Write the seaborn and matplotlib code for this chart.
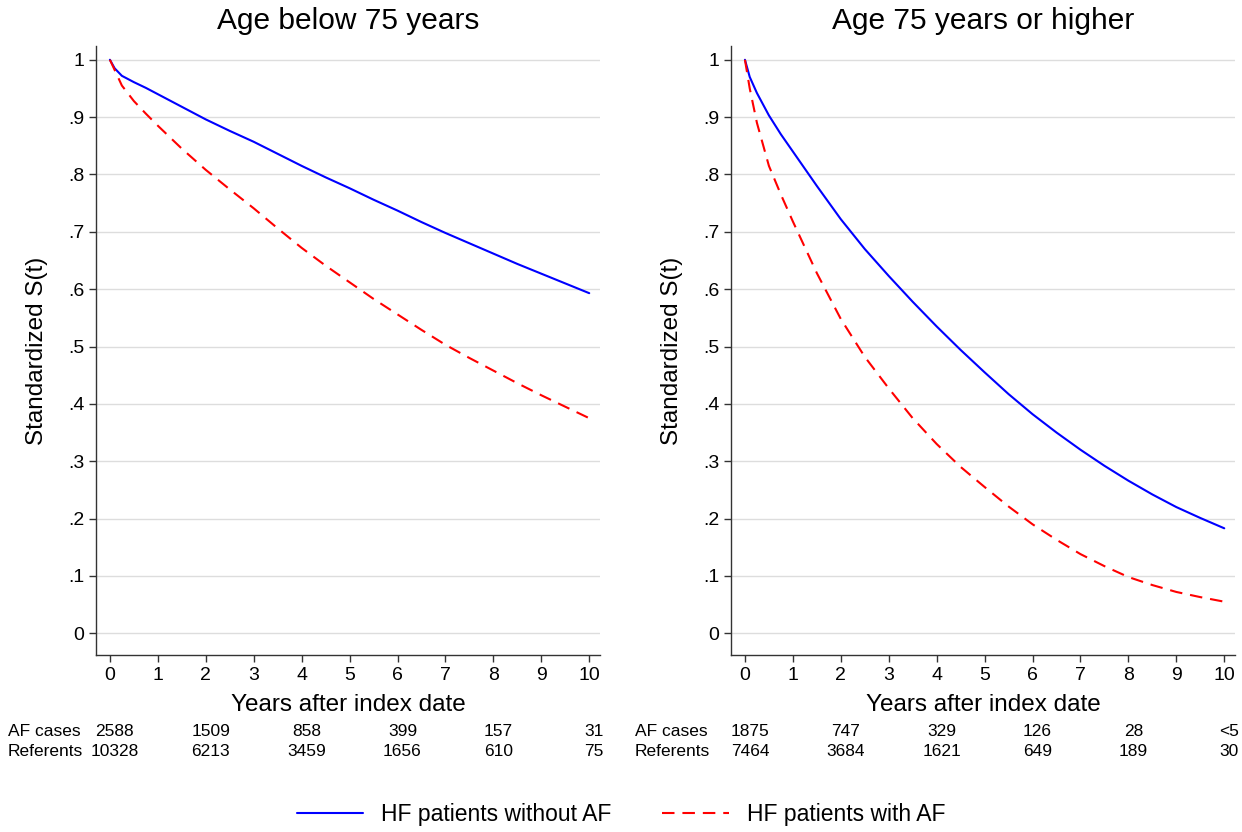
import numpy as np
import pandas as pd
import matplotlib
matplotlib.use("Agg")
import matplotlib.pyplot as plt
import seaborn as sns

# curve values
years = [0, 0.1, 0.25, 0.5, 0.75, 1, 1.5, 2, 2.5, 3, 3.5, 4, 4.5, 5, 5.5, 6,
         6.5, 7, 7.5, 8, 8.5, 9, 9.5, 10]
young_no_af = [1.0, 0.985, 0.972, 0.961, 0.951, 0.940, 0.918, 0.896, 0.876, 0.857, 0.836, 0.815,
               0.795, 0.776, 0.756, 0.737, 0.717, 0.698, 0.680, 0.662, 0.644, 0.627, 0.610, 0.593]
young_af = [1.0, 0.982, 0.955, 0.928, 0.906, 0.885, 0.845, 0.808, 0.774, 0.741, 0.706, 0.672,
            0.641, 0.612, 0.583, 0.556, 0.529, 0.503, 0.480, 0.458, 0.436, 0.415, 0.395, 0.375]
old_no_af = [1.0, 0.970, 0.942, 0.903, 0.870, 0.840, 0.780, 0.722, 0.670, 0.623, 0.578, 0.535,
             0.494, 0.455, 0.417, 0.382, 0.350, 0.320, 0.292, 0.266, 0.242, 0.220, 0.201, 0.183]
old_af = [1.0, 0.950, 0.890, 0.815, 0.765, 0.718, 0.628, 0.548, 0.482, 0.427, 0.375, 0.330,
          0.290, 0.255, 0.221, 0.190, 0.163, 0.138, 0.117, 0.098, 0.084, 0.072, 0.063, 0.055]

# numbers at risk
risk_years = [0, 2, 4, 6, 8, 10]
young_af_cases = ["2588", "1509", "858", "399", "157", "31"]
young_referents = ["10328", "6213", "3459", "1656", "610", "75"]
old_af_cases = ["1875", "747", "329", "126", "28", "<5"]
old_referents = ["7464", "3684", "1621", "649", "189", "30"]

titles = ["Age below 75 years", "Age 75 years or higher"]
groups = ["HF patients without AF", "HF patients with AF"]

sns.set_style("white")
plt.rcParams['font.family'] = ['Liberation Sans', 'DejaVu Sans']
plt.rcParams['text.color'] = 'black'
plt.rcParams['axes.labelcolor'] = 'black'
plt.rcParams['xtick.color'] = 'black'
plt.rcParams['ytick.color'] = 'black'


def make_df(no_af, af):
    return pd.concat([
        pd.DataFrame({"t": years, "s": no_af, "group": groups[0]}),
        pd.DataFrame({"t": years, "s": af, "group": groups[1]}),
    ])


panels = [
    (make_df(young_no_af, young_af), young_af_cases, young_referents),
    (make_df(old_no_af, old_af), old_af_cases, old_referents),
]

fig = plt.figure(figsize=(12.42, 8.32), dpi=100)
ax_pos = [[0.0773, 0.2127, 0.406, 0.732], [0.5886, 0.2127, 0.406, 0.732]]

palette = {groups[0]: "#0000FF", groups[1]: "#FF0000"}
dashes = {groups[0]: "", groups[1]: (6, 3.8)}

handles = None
for i, (df, cases, refs) in enumerate(panels):
    ax = fig.add_axes(ax_pos[i])
    sns.lineplot(data=df, x="t", y="s", hue="group", style="group",
                 palette=palette, dashes=dashes, linewidth=1.5, ax=ax)
    h, l = ax.get_legend_handles_labels()
    if handles is None:
        handles, labels = h, l
    ax.get_legend().remove()

    ax.set_xlim(-0.29, 10.23)
    ax.set_ylim(-0.038, 1.024)
    ax.set_xticks(range(0, 11))
    yt = np.round(np.arange(0, 1.01, 0.1), 1)
    ax.set_yticks(yt)
    ax.set_yticklabels(["0"] + [f".{k}" for k in range(1, 10)] + ["1"])
    ax.yaxis.grid(True, color="#DDDDDD", linewidth=1.0)
    ax.xaxis.grid(False)
    ax.set_axisbelow(True)
    for side in ["top", "right"]:
        ax.spines[side].set_visible(False)
    for side in ["left", "bottom"]:
        ax.spines[side].set_color("#333333")
        ax.spines[side].set_linewidth(1.0)
    ax.tick_params(axis="both", direction="out", length=5, width=1, color="#333333",
                   labelsize=14, left=True, bottom=True)
    ax.set_xlabel("Years after index date", fontsize=17.5, labelpad=7)
    ax.set_ylabel("Standardized S(t)", fontsize=17.5, labelpad=14)
    ax.set_title(titles[i], fontsize=21.5, pad=12)

    # numbers at risk below the axis
    lx = 8 / 1242 if i == 0 else 635 / 1242
    fig.text(lx, 1 - 732 / 832, "AF cases", fontsize=12.5, va="center", ha="left")
    fig.text(lx, 1 - 752 / 832, "Referents", fontsize=12.5, va="center", ha="left")
    for x, c, r in zip(risk_years, cases, refs):
        xf = fig.transFigure.inverted().transform(ax.transData.transform((x, 0)))[0]
        fig.text(xf + 0.004, 1 - 732 / 832, c, fontsize=12.5, va="center", ha="center")
        fig.text(xf + 0.004, 1 - 752 / 832, r, fontsize=12.5, va="center", ha="center")

fig.legend(handles, labels, loc="center", bbox_to_anchor=(0.5, 1 - 815 / 832),
           ncol=2, frameon=False, fontsize=16.5, handlelength=2.9, handletextpad=0.8,
           columnspacing=2.2)

fig.savefig("out.png", dpi=100)
